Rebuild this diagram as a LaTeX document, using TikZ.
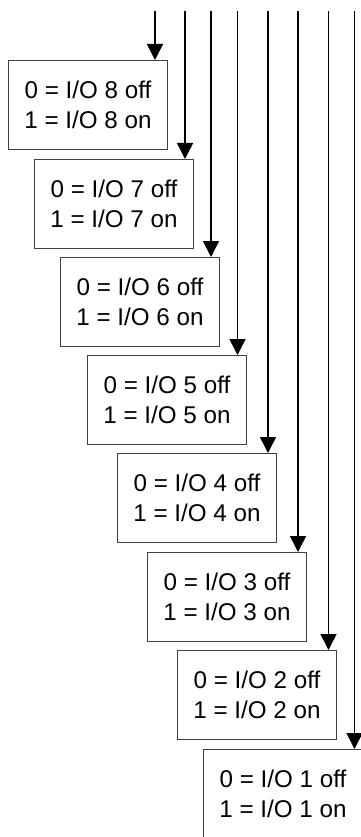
\documentclass[tikz,border=0pt]{standalone}
\usepackage{fontspec}
\setmainfont{Liberation Sans}
\usetikzlibrary{arrows.meta}
\tikzset{
  iobox/.style={draw=black!75, line width=0.9pt, rectangle, anchor=north west,
    minimum width=159pt, minimum height=89pt, inner sep=0pt, align=center,
    font=\fontsize{24.2}{30}\selectfont},
  arr/.style={line width=1.5pt, -{Triangle[length=16pt,width=16pt]}}
}
\begin{document}
\begin{tikzpicture}[x=1pt,y=-1pt]
\useasboundingbox (0,0) rectangle (361,837);
\clip (0,0) rectangle (361,837);
\node[iobox] (b8) at (8,60)  {0 = I/O 8 off\\1 = I/O 8 on};
\node[iobox] (b7) at (34,159) {0 = I/O 7 off\\1 = I/O 7 on};
\node[iobox] (b6) at (60,257) {0 = I/O 6 off\\1 = I/O 6 on};
\node[iobox] (b5) at (87,355) {0 = I/O 5 off\\1 = I/O 5 on};
\node[iobox] (b4) at (117,453) {0 = I/O 4 off\\1 = I/O 4 on};
\node[iobox] (b3) at (147,552) {0 = I/O 3 off\\1 = I/O 3 on};
\node[iobox] (b2) at (177,650) {0 = I/O 2 off\\1 = I/O 2 on};
\node[iobox] (b1) at (203,749) {0 = I/O 1 off\\1 = I/O 1 on};
\coordinate (s8) at (155,11);
\coordinate (s7) at (185,11);
\coordinate (s6) at (211,11);
\coordinate (s5) at (237.5,11);
\coordinate (s4) at (268,11);
\coordinate (s3) at (298,11);
\coordinate (s2) at (328.5,11);
\coordinate (s1) at (354.5,11);
\foreach \i in {1,...,8}{
  \draw[arr] (s\i) -- (s\i |- b\i.north);
}
\end{tikzpicture}
\end{document}
